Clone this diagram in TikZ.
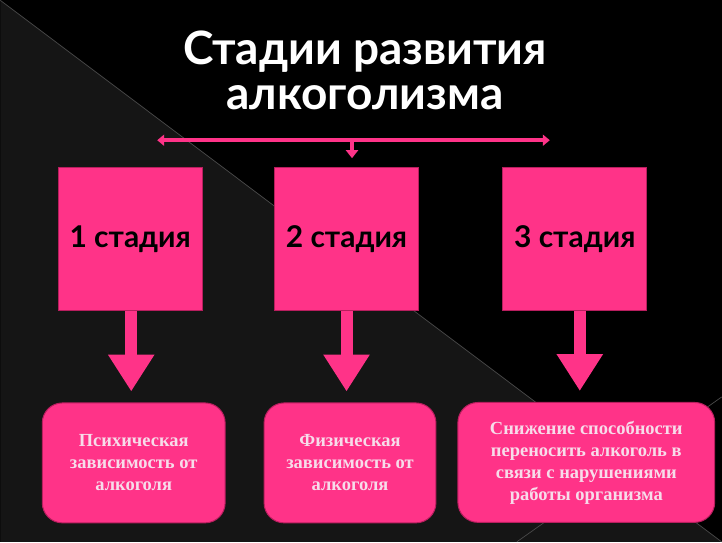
\documentclass[tikz,border=0pt]{standalone}
\usepackage{fontspec}
\setmainfont{Liberation Serif}
\newfontfamily\headfont{Lato}
\usetikzlibrary{arrows.meta}

\definecolor{rose}{HTML}{FF3388}
\definecolor{roseedge}{HTML}{B81E5E}
\definecolor{darkhalf}{HTML}{151515}
\definecolor{seam}{HTML}{4A4A4A}
\definecolor{pale}{HTML}{F7DCEA}

\begin{document}
\begin{tikzpicture}[x=1pt,y=-1pt,
	stage/.style={fill=rose, draw=roseedge, line width=1pt, minimum width=144pt, minimum height=143pt,
		text=black, font=\headfont\bfseries\fontsize{30}{30}\selectfont},
	result/.style={fill=rose, draw=roseedge, line width=1pt, rounded corners=20pt, minimum height=120pt,
		align=center, text=pale, font=\bfseries\fontsize{18.5}{22}\selectfont},
	link/.style={rose, line width=4pt},
	drop/.style={rose, line width=12pt, -{Triangle[width=44pt,length=37pt]}}]
	
	% Background with the diagonal seam
	\fill[black] (0,0) rectangle (722,542);
	\fill[darkhalf] (0,0) -- (722,542) -- (0,542) -- cycle;
	\draw[seam, line width=0.7pt] (0,0) -- (722,542);
	\draw[seam, line width=0.7pt] (517,542) -- (722,397);
	
	% Title
	\node[text=white, align=center, font=\headfont\bfseries\fontsize{46}{45}\selectfont] (title) at (365,70)
		{Стадии развития\\алкоголизма};
	
	% Stages
	\node[stage] (s1) at (130,239) {1 стадия};
	\node[stage] (s2) at (346.5,239) {2 стадия};
	\node[stage] (s3) at (575,239) {3 стадия};
	
	% Results
	\node[result, minimum width=183pt] (r1) at (133.5,463) {Психическая\\зависимость от\\алкоголя};
	\node[result, minimum width=172pt] (r2) at (350,463) {Физическая\\зависимость от\\алкоголя};
	\node[result, minimum width=257pt] (r3) at (586.5,462.5) {Снижение способности\\переносить алкоголь в\\связи с нарушениями\\работы организма};
	
	% Top bracket arrow
	\coordinate (hl) at (157,140);
	\coordinate (hr) at (550,140);
	\coordinate (hm) at (352,140);
	\coordinate (hd) at (352,158);
	\draw[link, {Triangle[width=11pt,length=7pt]}-{Triangle[width=11pt,length=7pt]}] (hl) -- (hr);
	\draw[link, -{Triangle[width=12pt,length=8pt]}] (hm) -- (hd);
	
	% Block arrows down
	\draw[drop, shorten >=11pt] ([xshift=1pt]s1.south) -- ([xshift=1pt]s1.south |- r1.north);
	\draw[drop, shorten >=11pt] (s2.south) -- (s2.south |- r2.north);
	\draw[drop, shorten >=11pt] ([xshift=5pt]s3.south) -- ([xshift=5pt]s3.south |- r3.north);
	
\end{tikzpicture}
\end{document}
